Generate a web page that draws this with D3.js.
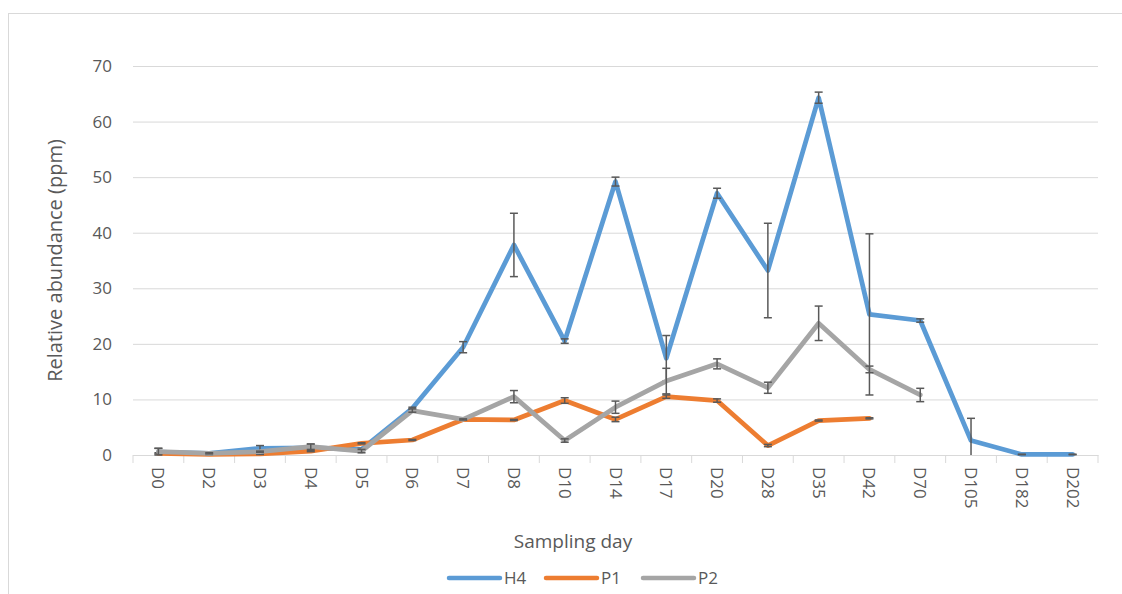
<!DOCTYPE html>
<html>
<head>
<meta charset="utf-8">
<script src="https://cdn.jsdelivr.net/npm/d3@7"></script>
<style>
  html, body { margin: 0; padding: 0; background: #fff; }
  svg { display: block; font-family: "Open Sans", sans-serif; }
</style>
</head>
<body>
<svg id="chart" width="1122" height="594"></svg>
<script>
// Sampling days (categorical x axis)
const categories = ["D0","D2","D3","D4","D5","D6","D7","D8","D10","D14","D17","D20","D28","D35","D42","D70","D105","D182","D202"];

// Mean relative abundance (ppm) per sampling day
const h4Values = [0.5,0.3,1.2,1.3,1.0,8.4,19.4,37.8,20.5,49.2,17.4,47.1,33.2,64.3,25.3,24.2,2.6,0.1,0.1];
const p1Values = [0.3,0.1,0.2,0.7,2.1,2.7,6.4,6.3,9.8,6.4,10.5,9.8,1.7,6.2,6.6];
const p2Values = [0.6,0.3,0.6,1.5,0.7,8.0,6.4,10.5,2.6,8.6,13.3,16.4,12.1,23.7,15.4,10.8];

// Standard deviation shown as error bars
const h4Errors = [0.7,0.1,0.5,0.6,0.2,0.2,1.0,5.7,0.4,0.8,4.1,0.9,8.5,1.0,14.5,0.3,4.0,0.05,0.05];
const p1Errors = [0.1,0.1,0.1,0.1,0.1,0.1,0.1,0.1,0.5,0.4,0.3,0.3,0.2,0.1,0.1];
const p2Errors = [0.6,0.1,0.1,0.5,0.3,0.3,0.1,1.1,0.3,1.1,2.3,0.9,1.0,3.1,0.6,1.2];

const seriesNames = ["H4","P1","P2"];
const seriesColors = ["#5B9BD5","#ED7D31","#A5A5A5"];
const yTicks = [0,10,20,30,40,50,60,70];

const series = seriesNames.map((name, i) => ({
  name,
  color: seriesColors[i],
  values: [h4Values, p1Values, p2Values][i],
  errors: [h4Errors, p1Errors, p2Errors][i]
}));

const svg = d3.select("#chart");

// Chart-area frame
svg.append("rect")
  .attr("x", 8.5).attr("y", 13.5)
  .attr("width", 1140).attr("height", 620)
  .attr("fill", "none").attr("stroke", "#D9D9D9").attr("stroke-width", 1);

const plot = { left: 133, right: 1098, top: 66, bottom: 455 };

const x = d3.scaleBand().domain(categories).range([plot.left, plot.right]);
const y = d3.scaleLinear().domain([0, 70]).range([plot.bottom, plot.top]);

// Horizontal gridlines + y tick labels
const yAxis = svg.append("g")
  .attr("transform", `translate(${plot.left},0)`)
  .call(d3.axisLeft(y).tickValues(yTicks).tickSize(-(plot.right - plot.left)).tickPadding(21));
yAxis.select(".domain").remove();
yAxis.selectAll(".tick line").attr("stroke", "#D9D9D9").attr("stroke-width", 1);
yAxis.selectAll(".tick text")
  .attr("fill", "#595959").style("font-size", "17px").style("font-family", "'Open Sans', sans-serif");

// Category axis: baseline, boundary tick marks, rotated labels
const xAxis = svg.append("g")
  .attr("transform", `translate(0,${plot.bottom})`)
  .call(d3.axisBottom(x).tickSize(0).tickPadding(12));
xAxis.select(".domain").attr("stroke", "#D9D9D9").attr("stroke-width", 1);
xAxis.selectAll(".tick text")
  .attr("fill", "#595959").style("font-size", "17px").style("font-family", "'Open Sans', sans-serif")
  .attr("text-anchor", "start")
  .attr("transform", "rotate(90)")
  .attr("x", 12).attr("y", 0).attr("dy", "0.35em");

const boundaries = categories.map(c => x(c)).concat([x.range()[1]]);
xAxis.selectAll(".boundary")
  .data(boundaries)
  .join("line")
  .attr("class", "boundary")
  .attr("x1", d => d).attr("x2", d => d)
  .attr("y1", 0).attr("y2", 8)
  .attr("stroke", "#D9D9D9").attr("stroke-width", 1);

const cx = c => x(c) + x.bandwidth() / 2;

const line = d3.line()
  .x((d, i) => cx(categories[i]))
  .y(d => y(d));

// Each series: line, then its error bars
series.forEach(s => {
  const g = svg.append("g");
  g.append("path")
    .datum(s.values)
    .attr("d", line)
    .attr("fill", "none")
    .attr("stroke", s.color)
    .attr("stroke-width", 4.75)
    .attr("stroke-linejoin", "round")
    .attr("stroke-linecap", "round");

  const bars = s.values.map((v, i) => ({
    x: cx(categories[i]),
    hi: y(v + s.errors[i]),
    lo: y(Math.max(0, v - s.errors[i])),
    clipped: v - s.errors[i] < 0
  }));
  const eb = g.selectAll(".err").data(bars).join("g").attr("class", "err")
    .attr("stroke", "#595959").attr("stroke-width", 1.5);
  eb.append("line")
    .attr("x1", d => d.x).attr("x2", d => d.x)
    .attr("y1", d => d.hi).attr("y2", d => d.lo);
  eb.append("line")
    .attr("x1", d => d.x - 4).attr("x2", d => d.x + 4)
    .attr("y1", d => d.hi).attr("y2", d => d.hi);
  eb.filter(d => !d.clipped).append("line")
    .attr("x1", d => d.x - 4).attr("x2", d => d.x + 4)
    .attr("y1", d => d.lo).attr("y2", d => d.lo);
});

// Axis titles
svg.append("text")
  .attr("x", 573)
  .attr("y", 548)
  .attr("text-anchor", "middle")
  .attr("fill", "#595959")
  .style("font-size", "19px")
  .text("Sampling day");

svg.append("text")
  .attr("transform", `translate(62,${(plot.top + plot.bottom) / 2}) rotate(-90)`)
  .attr("text-anchor", "middle")
  .attr("fill", "#595959")
  .style("font-size", "20px")
  .text("Relative abundance (ppm)");

// Legend
const legend = svg.append("g").attr("transform", "translate(0,578)");
const legendX = [449, 546, 643];
series.forEach((s, i) => {
  legend.append("line")
    .attr("x1", legendX[i]).attr("x2", legendX[i] + 51)
    .attr("y1", 0).attr("y2", 0)
    .attr("stroke", s.color).attr("stroke-width", 4.5)
    .attr("stroke-linecap", "round");
  legend.append("text")
    .attr("x", legendX[i] + 55).attr("y", 0).attr("dy", "0.35em")
    .attr("fill", "#595959")
    .style("font-size", "17px")
    .text(s.name);
});
</script>
</body>
</html>
